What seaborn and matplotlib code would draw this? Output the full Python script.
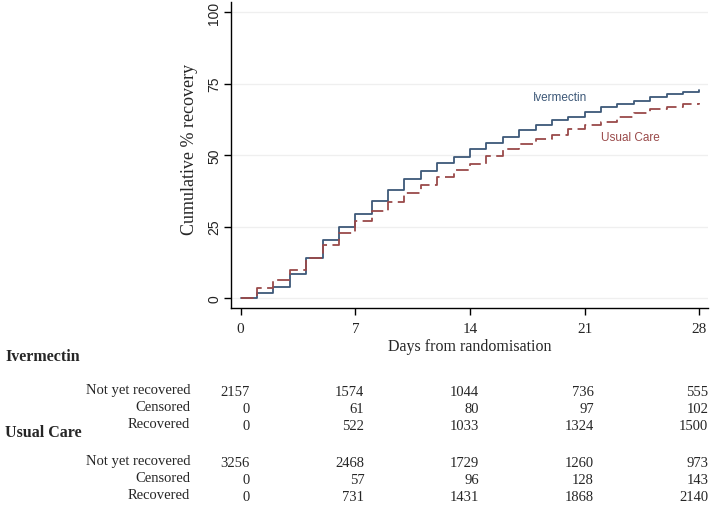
"""Cumulative recovery by arm (Kaplan-Meier style step curves) with risk table."""

import matplotlib.pyplot as plt
import matplotlib.transforms as mtransforms
import pandas as pd
import seaborn as sns

days = list(range(29))
ivermectin = [0, 1.7, 4.0, 8.3, 14.1, 20.4, 24.7, 29.4, 34.0, 37.8, 41.5, 44.3,
              47.2, 49.2, 52.2, 54.4, 56.5, 58.7, 60.5, 62.3, 63.5, 65.0, 67.0,
              67.9, 69.1, 70.2, 71.4, 72.2, 72.8]
usual_care = [0, 3.5, 6.2, 9.8, 14.1, 18.7, 22.6, 27.1, 30.5, 33.6, 36.8, 39.7,
              42.4, 44.8, 46.9, 49.8, 52.1, 54.0, 55.8, 57.2, 59.0, 60.4, 61.6,
              63.4, 64.8, 66.0, 67.0, 67.9, 68.2]

table_days = [0, 7, 14, 21, 28]
table_rows = ["Not yet recovered", "Censored", "Recovered"]
iver_table = [
    [2157, 1574, 1044, 736, 555],
    [0, 61, 80, 97, 102],
    [0, 522, 1033, 1324, 1500],
]
usual_table = [
    [3256, 2468, 1729, 1260, 973],
    [0, 57, 96, 128, 143],
    [0, 731, 1431, 1868, 2140],
]

IVER_COLOR = "#3d5878"
USUAL_COLOR = "#9a4a4a"
SERIF = ["Liberation Serif", "DejaVu Serif"]
SANS = ["Liberation Sans", "DejaVu Sans"]

sns.set_theme(style="white")
plt.rcParams["font.family"] = SERIF

W, H = 712, 506
fig = plt.figure(figsize=(W / 100, H / 100), dpi=100)
ax = fig.add_axes([231 / W, 1 - 309 / H, (708 - 231) / W, (309 - 3) / H])

df = pd.DataFrame({
    "day": days * 2,
    "pct": ivermectin + usual_care,
    "arm": ["Ivermectin"] * len(days) + ["Usual Care"] * len(days),
})
sns.lineplot(data=df, x="day", y="pct", hue="arm", style="arm",
             palette={"Ivermectin": IVER_COLOR, "Usual Care": USUAL_COLOR},
             dashes={"Ivermectin": "", "Usual Care": (7, 3)},
             drawstyle="steps-post", linewidth=1.3, legend=False, ax=ax)

ax.set_xlim(-0.59, 28.53)
ax.set_ylim(-3.5, 103.6)
ax.set_xticks(table_days)
ax.set_yticks([0, 25, 50, 75, 100])
for v in [0, 25, 50, 75, 100]:
    ax.axhline(v, color="#efefef", lw=0.9, zorder=0)

for side in ["top", "right"]:
    ax.spines[side].set_visible(False)
for side in ["left", "bottom"]:
    ax.spines[side].set_color("black")
    ax.spines[side].set_linewidth(1.0)

ax.tick_params(axis="both", direction="out", length=5, width=1, color="black",
               bottom=True, left=True)
ax.tick_params(axis="x", labelsize=11, pad=5)
ax.tick_params(axis="y", labelsize=10, pad=2)
for lab in ax.get_yticklabels():
    lab.set_rotation(90)
    lab.set_va("center")
    lab.set_family(SANS)
    lab.set_color("#222222")

ax.set_xlabel("Days from randomisation", fontsize=11.5, labelpad=2)
ax.set_ylabel("Cumulative % recovery", fontsize=13, labelpad=8)
ax.yaxis.set_label_coords(-0.069, 0.52)

ax.text(19.5, 70.4, "Ivermectin", color=IVER_COLOR, fontsize=8.5,
        family=SANS, ha="center", va="center")
ax.text(23.8, 56.2, "Usual Care", color=USUAL_COLOR, fontsize=8.5,
        family=SANS, ha="center", va="center")

# risk table below the axis
trans = mtransforms.blended_transform_factory(ax.transData, fig.transFigure)
shift = mtransforms.ScaledTranslation(9 / 100, 0, fig.dpi_scale_trans)
groups = [("Ivermectin", 357, [391, 408, 425], iver_table),
          ("Usual Care", 433, [462, 479, 496], usual_table)]
for name, gy, rows_y, values in groups:
    fig.text(5 / W, 1 - gy / H, name, fontsize=11.5, fontweight="bold",
             ha="left", va="center")
    for label, ry, row in zip(table_rows, rows_y, values):
        fig.text(190 / W, 1 - ry / H, label, fontsize=10.5,
                 ha="right", va="center")
        for d, v in zip(table_days, row):
            ax.text(d, 1 - (ry + 2) / H, str(v), fontsize=10.5,
                    ha="right", va="center", transform=trans + shift,
                    clip_on=False)

fig.savefig("out.png", dpi=100)
plt.close(fig)
